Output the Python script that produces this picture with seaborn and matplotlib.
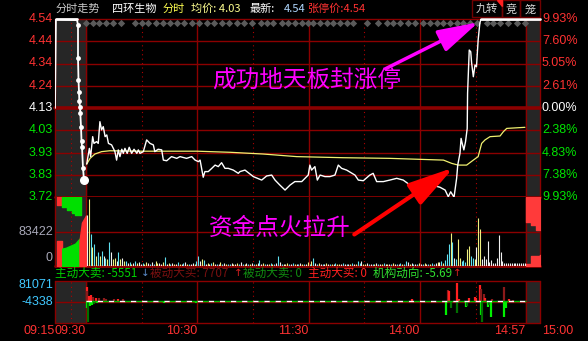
import numpy as np
import pandas as pd
import matplotlib
matplotlib.use("Agg")
import matplotlib.pyplot as plt
import seaborn as sns

sns.set_theme(style="dark")
plt.rcParams['font.family'] = ['Noto Sans CJK SC', 'DejaVu Sans']

# ---- data ----
# session minutes after 09:30 (morning 0-120, afternoon 120-237, 14:57 = 237)
price_min = [0.4, 1.8, 2.5, 3.6, 4.3, 5.7, 6.6, 7.5, 8.4, 9.3, 10.3, 11.2, 12.1, 13.8, 15.6, 16.5,
             17.4, 18.3, 19.3, 20.1, 21.0, 22.2, 23.3, 24.6, 25.9, 27.4, 28.2, 29.1, 30.9, 32.7,
             34.5, 36.3, 37.1, 38.9, 40.8, 41.7, 43.5, 46.1, 48.9, 50.7, 54.2, 57.0, 58.8, 60.6,
             61.5, 63.2, 64.1, 65.9, 67.8, 69.6, 71.3, 73.1, 74.9, 76.7, 79.4, 82.1, 83.0, 85.7,
             90.2, 94.7, 97.4, 100.1, 101.9, 104.5, 107.3, 110.0, 112.6, 116.3, 119.8, 120.7,
             121.6, 123.4, 124.7, 126.2, 128.8, 131.5, 134.2, 136.0, 137.8, 140.5, 145.0, 146.8,
             149.5, 153.0, 154.8, 156.7, 160.3, 163.8, 167.5, 171.0, 174.7, 177.3, 180.0, 183.7,
             188.1, 190.8, 193.6, 195.3, 196.6, 198.4, 199.8, 200.4, 201.6, 202.2, 202.8, 203.7,
             204.6, 205.5, 205.7, 206.6, 207.4, 207.9, 208.8, 209.7, 210.5, 211.4, 212.3, 212.9,
             237.0, 244.7]
price_val = [3.872, 3.944, 3.906, 3.998, 3.967, 3.975, 3.967, 4.067, 4.029, 4.044, 3.998, 4.006,
             3.967, 3.960, 3.929, 3.890, 3.937, 3.906, 3.940, 3.921, 3.944, 3.921, 3.949, 3.921,
             3.940, 3.921, 3.937, 3.921, 3.929, 3.983, 3.967, 3.960, 3.929, 3.940, 3.937, 3.890,
             3.887, 3.906, 3.898, 3.906, 3.898, 3.906, 3.890, 3.883, 3.890, 3.811, 3.837, 3.837,
             3.852, 3.867, 3.860, 3.878, 3.852, 3.852, 3.844, 3.829, 3.837, 3.844, 3.814, 3.798,
             3.817, 3.821, 3.798, 3.775, 3.752, 3.775, 3.791, 3.791, 3.821, 3.867, 3.844, 3.860,
             3.798, 3.821, 3.814, 3.814, 3.821, 3.867, 3.852, 3.844, 3.821, 3.798, 3.795, 3.821,
             3.829, 3.791, 3.791, 3.798, 3.806, 3.798, 3.775, 3.783, 3.767, 3.771, 3.771, 3.765,
             3.752, 3.721, 3.744, 3.719, 3.806, 3.867, 3.921, 3.990, 3.967, 3.937, 3.975, 4.036,
             4.198, 4.397, 4.389, 4.336, 4.274, 4.328, 4.320, 4.443, 4.520, 4.540, 4.540,
             4.540]

avg_min = [0.4, 2.2, 4.8, 8.4, 12.8, 29.1, 59.7, 77.7, 95.5, 113.6, 138.7, 163.8, 192.7, 197.1,
           200.6, 205.2, 208.8, 211.4, 213.3, 215.1, 217.8, 223.2, 225.0, 226.8, 236.6]
avg_val = [3.872, 3.898, 3.918, 3.929, 3.933, 3.931, 3.931, 3.926, 3.918, 3.906, 3.901, 3.898,
           3.890, 3.875, 3.867, 3.867, 3.890, 3.906, 3.967, 3.983, 3.998, 4.001, 4.021, 4.036,
           4.041]

# call auction 09:15-09:25, minutes after 09:15
pre_t = [0.0, 0.3, 7.1, 7.42, 7.42, 7.58, 7.74, 7.84, 8.06, 8.16, 8.39, 8.55, 8.71, 9.03, 9.35]
pre_p = [4.13, 4.54, 4.535, 4.513, 4.361, 4.259, 4.204, 4.163, 4.135, 4.107, 4.043, 3.978,
         3.951, 3.854, 3.798]

# one volume bar per minute (thousand lots) and its colour class
vol_k = [123, 162, 78, 45, 54, 25, 33, 25, 37, 25,
         20, 17, 57, 33, 17, 20, 12, 33, 17, 20,
         12, 12, 8, 10, 6, 8, 12, 7, 9, 5,
         8, 6, 10, 7, 5, 9, 6, 12, 7, 8,
         5, 9, 22, 6, 7, 5, 8, 4, 6, 10,
         6, 5, 7, 9, 5, 6, 4, 8, 5, 12,
         24, 12, 18, 14, 4, 7, 5, 8, 10, 6,
         4, 6, 9, 5, 7, 4, 6, 5, 8, 6,
         5, 7, 4, 9, 6, 5, 8, 4, 6, 7,
         5, 4, 8, 14, 5, 7, 4, 6, 5, 8,
         6, 4, 7, 24, 9, 6, 4, 5, 7, 6,
         5, 8, 4, 6, 5, 7, 4, 6, 5, 9,
         4, 12, 20, 7, 4, 8, 5, 6, 4, 7,
         5, 4, 6, 5, 8, 4, 6, 5, 7, 4,
         6, 5, 4, 7, 5, 6, 12, 8, 12, 6,
         4, 7, 5, 6, 4, 5, 8, 4, 6, 5,
         7, 4, 6, 5, 4, 7, 5, 6, 4, 8,
         5, 6, 12, 9, 5, 7, 4, 6, 5, 8,
         6, 5, 7, 4, 6, 5, 8, 6, 7, 9,
         10, 12, 8, 14, 30, 52, 79, 57, 20, 17,
         65, 20, 12, 14, 10, 41, 49, 24, 20, 17,
         45, 116, 90, 17, 25, 17, 60, 10, 14, 8,
         8, 20, 74, 33, 12, 8, 8, 8, 8, 8,
         8, 8, 8, 8, 8, 8, 8]
vol_dir = ("wycycycycw" "cycwyywcyw" "ycwcywcyww" "cyywcwcyyw" "wycwycwywc"
           "ywcwycwwyc" "cwycwywcyw" "cwycwyccwy" "wycwcywcyw" "cywcwycwyc"
           "ycwcwcwyyc" "wcywcwycwy" "cycwcywcwy" "wcywcyywcw" "cwycwyccwy"
           "ywcwcywcwy" "cwywcywcwc" "yccwywcwcy" "wcywcyccwy" "wcycccycwc"
           "yycccyyccy" "wyywwwwwww" "wwwwwwwwww" "wwwwwww")

# main-force flow bars (thousand), kind: zb main buy, bb passive buy, zs main sell, bs passive sell
flow_min = [0.3, 0.8, 0.3, 1.2, 1.8, 2.2, 2.7, 3.2, 3.8, 4.5, 5.2, 6.0, 7.0, 8.0, 9.5, 11.0,
            13.0, 15.0, 17.0, 20.0, 42.0, 59.5, 176.0, 194.1, 195.0, 195.9, 196.8, 199.8,
            199.8, 201.0, 205.0, 205.5, 206.5, 209.5, 210.5, 212.5, 213.0, 212.8, 213.7, 214.6,
            215.3, 216.9, 217.5, 218.3, 218.8, 225.3, 225.5, 226.4, 228.0, 230.0]
flow_val = [58, 40, -28, -84, 20, -20, 24, -16, 15, -12, 10, -8, 12, -6, 10, 8,
            -5, 9, 6, 7, -7, -10, 6, -57, 45, 40, -30, 74,
            -49, 8, -25, -20, 10, 15, 12, 65, 50, -57, -84, 30,
            10, -25, -18, -65, 8, 58, -64, -30, 6, 5]
flow_kind = ['zb', 'bb', 'zs', 'bs', 'zb', 'zs', 'zb', 'zs', 'bb', 'bs', 'zb', 'zs', 'bb', 'zs',
             'bb', 'bb', 'zs', 'bb', 'zb', 'bb', 'zs', 'zs', 'zb', 'zs', 'bb', 'zb', 'bs', 'zb',
             'bs', 'zb', 'zs', 'bs', 'zb', 'zb', 'zb', 'zb', 'bb', 'zs', 'bs', 'bb',
             'zb', 'zs', 'bs', 'zs', 'bb', 'bb', 'zs', 'zs', 'zb', 'bb']

diamond_min = [0, 3.6, 7.2, 10.8, 14.4, 18.7, 26.4, 30.0, 33.6, 37.7, 41.7, 45.3, 48.9, 53.0,
               57.0, 61.1, 65.1, 69.2, 73.2, 77.3, 81.2, 85.3, 89.3, 94.2, 97.4, 101.0, 105.5,
               109.1, 112.6, 116.2, 119.8, 122.5, 126.1, 129.8, 133.3, 136.9, 140.5, 144.1,
               151.3, 157.6, 162.1, 165.7, 169.3, 173.7, 177.4, 181.8, 185.4, 189.1, 192.6,
               196.2, 199.8, 203.4, 207.0, 210.6, 216.0, 219.6, 223.2, 227.7, 232.2, 236.7]

price_labels = ['4.54', '4.44', '4.34', '4.24', '4.13', '4.03', '3.93', '3.83', '3.72']
pct_labels = ['9.93%', '7.60%', '5.05%', '2.61%', '0.00%', '2.38%', '4.83%', '7.38%', '9.93%']
time_labels = ['09:15', '09:30', '10:30', '11:30', '14:00', '14:57', '15:00']
time_min = [-16.71, 0, 60, 120, 180, 237, 244.7]

# ---- layout ----
W, H = 588, 341
PPM = 1.855                      # pixels per session minute
XMIN, XMAX = (55 - 86) / PPM, (540 - 86) / PPM
RED, GRN, GRID, SHADE = '#FF3232', '#00E600', '#8B0000', '#262626'
NUM = 'Liberation Sans'
VOL_TOP = 166.844
FLOW_LO, FLOW_HI = -89.747, 81.071

fig = plt.figure(figsize=(W / 100, H / 100), dpi=100, facecolor='black')


def px_axes(x0, y0, x1, y1):
    a = fig.add_axes([x0 / W, 1 - y1 / H, (x1 - x0) / W, (y1 - y0) / H])
    a.set_facecolor('black')
    a.set_xlim(XMIN, XMAX)
    for s in a.spines.values():
        s.set_visible(False)
    a.set_xticks([])
    a.set_yticks([])
    a.grid(False)
    a.axvspan(XMIN, 0, color=SHADE, zorder=0)
    a.axvspan(237, XMAX, color=SHADE, zorder=0)
    for m in [XMIN, 0, 60, 120, 180, 237, XMAX]:
        a.axvline(m, color=GRID, lw=1.0, zorder=1, clip_on=False)
    for m in [XMIN / 2, 30, 90, 150, 210]:
        a.axvline(m, color='#B00000', lw=0.8, ls=(0, (1, 3)), zorder=1)
    return a


def pre_x(t):
    return XMIN + np.asarray(t) * (-XMIN / 10)


def ftxt(x, y, s, **kw):
    fig.text(x / W, 1 - y / H, s, **kw)


# price panel
ax = px_axes(55, 19, 540, 197)
ax.set_ylim(3.72, 4.54)
levels = np.linspace(4.54, 3.72, 9)
for i, lv in enumerate(levels):
    thick = 2.6 if i == 4 else (2.0 if i == 8 else 1.0)
    ax.axhline(lv, color=GRID, lw=thick, zorder=1, clip_on=False)

ax.scatter(diamond_min, [4.522] * len(diamond_min), marker='D', s=14, color='#5a5a5a',
           zorder=2, linewidths=0)

df_p = pd.DataFrame({'m': price_min, 'p': price_val})
df_a = pd.DataFrame({'m': avg_min, 'p': avg_val})
sns.lineplot(data=df_a, x='m', y='p', ax=ax, color='#F0F070', lw=0.9, sort=False,
             estimator=None, zorder=3)
sns.lineplot(data=df_p, x='m', y='p', ax=ax, color='white', lw=1.0, sort=False,
             estimator=None, zorder=4)
ax.plot([212.9, XMAX], [4.54, 4.54], color='white', lw=2.0, zorder=4, clip_on=False)
df_pre = pd.DataFrame({'m': pre_x(pre_t), 'p': pre_p})
sns.lineplot(data=df_pre, x='m', y='p', ax=ax, color='white', lw=1.3, sort=False,
             estimator=None, zorder=4)
ax.plot(pre_x([0.3, 7.1]), [4.54, 4.54], color='white', lw=2.0, zorder=4, clip_on=False)
sns.scatterplot(x=pre_x(pre_t[3:]), y=pre_p[3:], ax=ax, color='white', s=12,
                linewidth=0, zorder=5)
ax.scatter(pre_x(pre_t[-1]), pre_p[-1], color='white', s=30, zorder=5)
ax.set_xlabel('')
ax.set_ylabel('')
ax.set_xlim(XMIN, XMAX)
ax.set_ylim(3.72, 4.54)

for i, (lab, pct) in enumerate(zip(price_labels, pct_labels)):
    y = 19 + i * (178 / 8)
    col = RED if i < 4 else ('white' if i == 4 else GRN)
    ftxt(53, y, lab, color=col, fontsize=9, ha='right', va='center', family=NUM)
    ftxt(542, y, pct, color=col, fontsize=9, ha='left', va='center', family=NUM)

# volume panel
axv = px_axes(55, 197, 540, 266)
axv.set_ylim(0, VOL_TOP)
axv.axhline(VOL_TOP / 2, color=GRID, lw=1.0, zorder=1)
axv.axhline(0, color=GRID, lw=2.0, zorder=1, clip_on=False)
vcol = {'w': '#F0F0F0', 'y': '#F0F080', 'c': '#60E0F0'}
mins = np.arange(len(vol_k))
axv.vlines(mins + 0.5, 0, vol_k, colors=[vcol[c] for c in vol_dir], lw=0.8, zorder=3)

# auction volume blocks (pre-open and closing call)
axv.fill_between(pre_x([0.6, 2.3]), VOL_TOP, 147, color='#FF3030', step='post', zorder=2)
axv.fill_between(pre_x([2.3, 4.0, 5.5, 6.5, 8.5]), VOL_TOP, [142, 135, 128, 123, 123],
                 color='#00E000', step='post', zorder=2)
axv.fill_between(pre_x([0.6, 2.3]), 0, 61, color='#FF3030', zorder=2)
axv.fill_between(pre_x([2.3, 3.5, 5.0, 6.5, 7.9]), 0, [42, 44, 49, 54, 66],
                 color='#00E000', zorder=2)
axv.fill_between(pre_x([7.9, 8.7, 10.0]), 0, [61, 105, 122], color='#FF3030', zorder=2)
axv.fill_between([237, 240, 242.5, XMAX], VOL_TOP, [106, 100, 86, 86], color='#FF3A3A',
                 step='post', zorder=2)
axv.fill_between([237, 240, XMAX], 0, [5, 25, 27], color='#FF3A3A', step='post', zorder=2)

ftxt(53, 232, '83422', color='#A8A8B8', fontsize=9, ha='right', va='center', family=NUM)
ftxt(53, 258, '0', color='#A8A8B8', fontsize=9, ha='right', va='center', family=NUM)

# flow panel
axf = px_axes(55, 281, 540, 323)
axf.set_ylim(FLOW_LO, FLOW_HI)
axf.axhline(FLOW_HI, color=GRID, lw=1.0, clip_on=False)
axf.axhline(-4.338, color=GRID, lw=1.0)
axf.axhline(FLOW_LO, color=GRID, lw=1.0, clip_on=False)
fcol = {'zb': '#FF2020', 'bb': '#8B1A1A', 'zs': '#00F000', 'bs': '#007000'}
axf.vlines(flow_min, 0, flow_val, colors=[fcol[k] for k in flow_kind], lw=1.6, zorder=3)
axf.plot([0, 237], [0, 0], color='white', lw=1.0, ls=(0, (4, 4)), zorder=4)
axf.plot([0, 237], [0, 0], color='#00C000', lw=1.0, ls=(4, (4, 4)), zorder=4)
ftxt(53, 285, '81071', color='#40C8FF', fontsize=9, ha='right', va='center', family=NUM)
ftxt(53, 302, '-4338', color='#40C8FF', fontsize=9, ha='right', va='center', family=NUM)

# time axis
for lab, m in zip(time_labels, time_min):
    x = 86 + m * PPM
    ha = 'left' if lab == '15:00' else 'right'
    ftxt(x + (2 if ha == 'left' else 0), 331, lab, color=RED, fontsize=9, ha=ha, va='center',
         family=NUM)

# header
ftxt(56, 9, '分时走势', color='#C8C8C8', fontsize=8, va='center')
ftxt(112, 9, '四环生物', color='white', fontsize=8, va='center')
ftxt(163, 9, '分时', color='#FFFF50', fontsize=8, va='center')
ftxt(191, 9, '均价: 4.03', color='#FFFF90', fontsize=8, va='center')
ftxt(250, 9, '最新:', color='white', fontsize=8, va='center')
ftxt(284, 9, '4.54', color='#B0D8FF', fontsize=8, va='center')
ftxt(307, 9, '张停价:4.54', color=RED, fontsize=8, va='center')
for x0, x1, s in [(472, 502, '九转'), (502, 520, '竞'), (520, 540, '笼')]:
    fig.patches.append(plt.Rectangle((x0 / W, 1 - 17 / H), (x1 - x0) / W, 17 / H,
                                     transform=fig.transFigure, fill=False,
                                     edgecolor='#700000', lw=1.0))
    ftxt((x0 + x1) / 2, 9, s, color='#D8D8D8', fontsize=8, ha='center', va='center')
fig.patches.append(plt.Polygon([(497 / W, 1), (502 / W, 1), (502 / W, 1 - 6 / H)],
                               closed=True, transform=fig.transFigure, color='#FF2020'))

# flow summary row
row = [(55, '主动大卖: -5551', '#00D000'), (150, '被动大买: 7707', '#7A1010'),
       (243, '被动大卖: 0', '#108A10'), (308, '主动大买: 0', '#FF2020'),
       (373, '机构动向: -5.69', '#30E030')]
for x, s, c in row:
    ftxt(x, 273, s, color=c, fontsize=8.4, va='center')
for x, s, c in [(141, '↓', '#5A8AC8'), (234, '↑', '#E02020'), (453, '↑', '#E02020')]:
    ftxt(x, 273, s, color=c, fontsize=7.5, va='center', family='DejaVu Sans')

# annotations
ftxt(212, 80, '成功地天板封涨停', color='#FF00FF', fontsize=17, va='center')
ftxt(209, 228, '资金点火拉升', color='#FF00FF', fontsize=17, va='center')
fig.add_artist(matplotlib.patches.FancyArrowPatch(
    (383, H - 70), (481, H - 21), transform=None, arrowstyle='-|>,head_length=2.5,head_width=0.7',
    mutation_scale=10, color='#FF00FF', lw=2.5))
fig.add_artist(matplotlib.patches.FancyArrowPatch(
    (352, H - 236), (456, H - 166), transform=None, arrowstyle='-|>,head_length=2.8,head_width=0.75',
    mutation_scale=10, color='#FF0000', lw=3.0))

fig.savefig('out.png', dpi=100, facecolor='black')
